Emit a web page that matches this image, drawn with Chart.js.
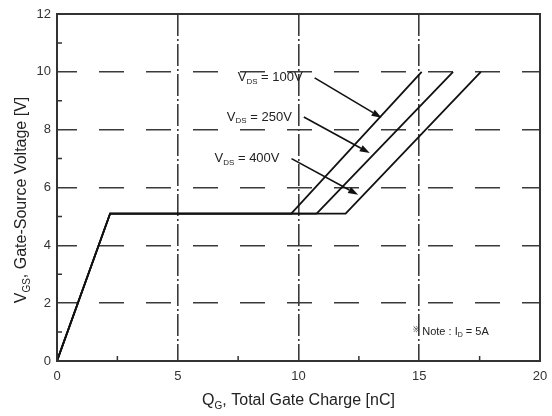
<!DOCTYPE html>
<html>
<head>
<meta charset="utf-8">
<script src="https://cdn.jsdelivr.net/npm/chart.js@4.4.1/dist/chart.umd.min.js"></script>
<style>
html,body{margin:0;padding:0;background:#fff;}
#wrap{width:552px;height:416px;}
</style>
</head>
<body>
<div id="wrap"><canvas id="c" width="552" height="416"></canvas></div>
<script>
// ---- data ----
const seriesLabels = ['100V', '250V', '400V'];
const charge100 = [0, 2.2, 9.7, 15.1];
const vgs100    = [0, 5.1, 5.1, 10];
const charge250 = [0, 2.2, 10.75, 16.4];
const vgs250    = [0, 5.1, 5.1, 10];
const charge400 = [0, 2.2, 11.95, 17.55];
const vgs400    = [0, 5.1, 5.1, 10];
// annotation arrows (data coordinates), one per series label
const arrowStartX = [10.67, 10.22, 9.71];
const arrowStartY = [9.79, 8.44, 7.0];
const arrowEndX   = [13.44, 12.95, 12.47];
const arrowEndY   = [8.41, 7.19, 5.75];
// ticks
const xTicks = [0, 5, 10, 15, 20];
const yTicks = [0, 2, 4, 6, 8, 10, 12];
const xMinor = [2.5, 7.5, 12.5, 17.5];
const yMinor = [1, 3, 5, 7, 9, 11];
const noteText = 'Note : I';
const noteSub = 'D';
const noteValue = ' = 5A';

function pts(xs, ys){ return xs.map((x,i)=>({x:x, y:ys[i]})); }

const FONT = '"Liberation Sans", Arial, sans-serif';
const INK = '#333';

function drawParts(ctx, parts, x, y, align){
  let total = 0;
  parts.forEach(p=>{ ctx.font = p.size + 'px ' + FONT; p.w = ctx.measureText(p.t).width; total += p.w; });
  let cx = align === 'right' ? x - total : (align === 'center' ? x - total/2 : x);
  ctx.textBaseline = 'middle';
  ctx.textAlign = 'left';
  parts.forEach(p=>{ ctx.font = p.size + 'px ' + FONT; ctx.fillText(p.t, cx, y + (p.dy||0)); cx += p.w; });
}

const decor = {
  id: 'decor',
  afterDraw(chart){
    const {ctx, chartArea:a, scales:{x, y}} = chart;
    ctx.save();
    // frame
    ctx.strokeStyle = INK; ctx.lineWidth = 2;
    ctx.strokeRect(a.left, a.top, a.right - a.left, a.bottom - a.top);
    // minor inward ticks
    ctx.lineWidth = 1.5;
    ctx.beginPath();
    yMinor.forEach(v=>{ const py = y.getPixelForValue(v); ctx.moveTo(a.left, py); ctx.lineTo(a.left + 5, py); });
    xMinor.forEach(v=>{ const px = x.getPixelForValue(v); ctx.moveTo(px, a.bottom); ctx.lineTo(px, a.bottom - 5); });
    ctx.stroke();
    // arrows + labels
    ctx.fillStyle = '#111'; ctx.strokeStyle = '#111'; ctx.lineWidth = 1.6;
    for (let i = 0; i < arrowStartX.length; i++){
      const sx = x.getPixelForValue(arrowStartX[i]), sy = y.getPixelForValue(arrowStartY[i]);
      const ex = x.getPixelForValue(arrowEndX[i]), ey = y.getPixelForValue(arrowEndY[i]);
      const ang = Math.atan2(ey - sy, ex - sx);
      const L = 10, W = 3.5;
      ctx.beginPath(); ctx.moveTo(sx, sy);
      ctx.lineTo(ex - L*Math.cos(ang), ey - L*Math.sin(ang)); ctx.stroke();
      ctx.beginPath();
      ctx.moveTo(ex, ey);
      ctx.lineTo(ex - L*Math.cos(ang) + W*Math.sin(ang), ey - L*Math.sin(ang) - W*Math.cos(ang));
      ctx.lineTo(ex - L*Math.cos(ang) - W*Math.sin(ang), ey - L*Math.sin(ang) + W*Math.cos(ang));
      ctx.closePath(); ctx.fill();
      ctx.fillStyle = '#222';
      drawParts(ctx, [{t:'V', size:13}, {t:'DS', size:8, dy:4}, {t:' = ' + seriesLabels[i], size:13}], sx - 12, sy, 'right');
      ctx.fillStyle = '#111';
    }
    // note
    ctx.fillStyle = '#222';
    drawParts(ctx, [{t:'※ ', size:8, dy:-2}, {t:noteText, size:11}, {t:noteSub, size:7, dy:3}, {t:noteValue, size:11}], a.right - 127, a.bottom - 29, 'left');
    // axis titles
    ctx.fillStyle = '#222';
    const xc = (a.left + a.right)/2;
    drawParts(ctx, [{t:'Q', size:16}, {t:'G', size:10, dy:5}, {t:', Total Gate Charge [nC]', size:16}], xc, 401, 'center');
    ctx.save();
    ctx.translate(22, 200);
    ctx.rotate(-Math.PI/2);
    drawParts(ctx, [{t:'V', size:16}, {t:'GS', size:10, dy:5}, {t:', Gate-Source Voltage [V]', size:16}], 0, 0, 'center');
    ctx.restore();
    ctx.restore();
  }
};

const lineStyle = {borderColor:'#111', borderWidth:1.8, pointRadius:0, fill:false, tension:0};

new Chart(document.getElementById('c'), {
  type: 'line',
  data: {
    datasets: [
      Object.assign({label:seriesLabels[0], data: pts(charge100, vgs100)}, lineStyle),
      Object.assign({label:seriesLabels[1], data: pts(charge250, vgs250)}, lineStyle),
      Object.assign({label:seriesLabels[2], data: pts(charge400, vgs400)}, lineStyle)
    ]
  },
  options: {
    responsive: false,
    animation: false,
    events: [],
    layout: {padding: {top: 14, right: 12, left: 0, bottom: 0}},
    plugins: {legend: {display:false}, tooltip: {enabled:false}},
    scales: {
      x: {
        type: 'linear', min: 0, max: 20,
        afterBuildTicks(s){ s.ticks = xTicks.map(v=>({value:v})); },
        afterFit(s){ s.height = 55; s.paddingLeft = 0; s.paddingRight = 0; },
        ticks: {color: INK, font:{family: FONT, size: 13}, padding: 8, maxRotation: 0},
        grid: {
          drawTicks: false,
          color: c => (c.tick && (c.tick.value === 0 || c.tick.value === 20)) ? 'rgba(0,0,0,0)' : '#3a3a3a',
          lineWidth: 1.6
        },
        border: {display: false, dash: [22, 3, 2, 3], dashOffset: 0}
      },
      y: {
        type: 'linear', min: 0, max: 12,
        afterBuildTicks(s){ s.ticks = yTicks.map(v=>({value:v})); },
        afterFit(s){ s.width = 57; s.paddingTop = 0; s.paddingBottom = 0; },
        ticks: {color: INK, font:{family: FONT, size: 13}, padding: 6},
        grid: {
          drawTicks: false,
          color: c => (c.tick && (c.tick.value === 0 || c.tick.value === 12)) ? 'rgba(0,0,0,0)' : '#3a3a3a',
          lineWidth: 1.6
        },
        border: {display: false, dash: [25, 22], dashOffset: 5}
      }
    }
  },
  plugins: [decor]
});
</script>
</body>
</html>
